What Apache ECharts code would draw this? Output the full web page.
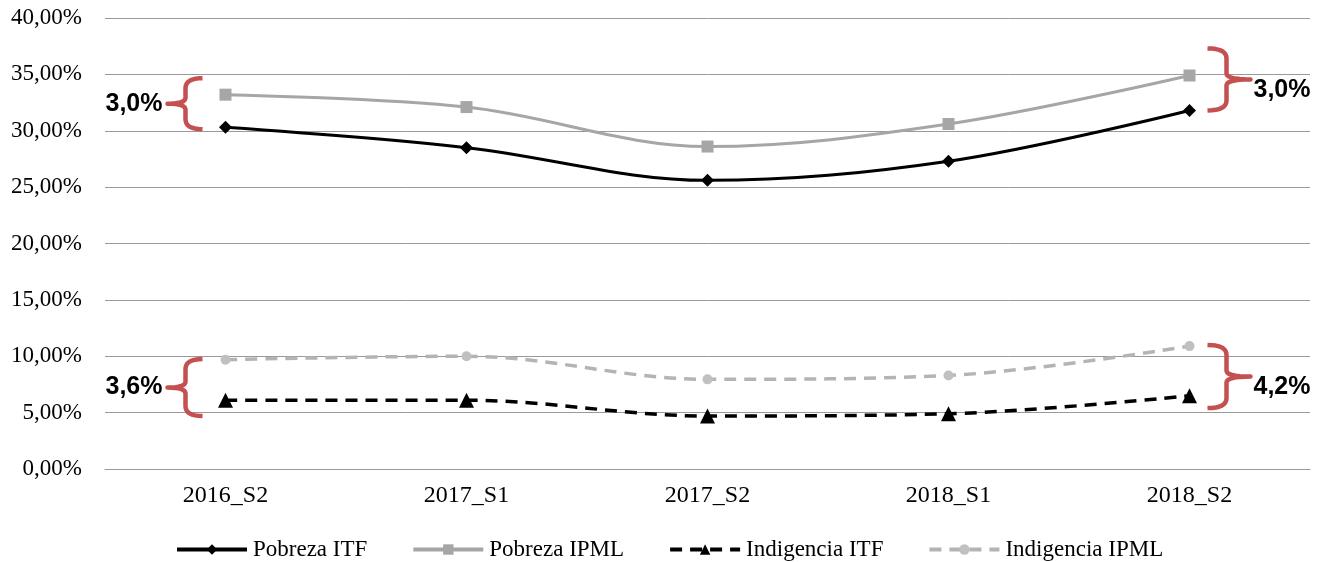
<!DOCTYPE html>
<html><head><meta charset="utf-8">
<script src="https://cdn.jsdelivr.net/npm/echarts@6/dist/echarts.min.js"></script>
<style>html,body{margin:0;padding:0;background:#fff}#c{width:1324px;height:562px}</style>
</head><body><div id="c"></div>
<script>
const categories = ['2016_S2','2017_S1','2017_S2','2018_S1','2018_S2'];
const pobrezaITF = [30.3, 28.5, 25.6, 27.3, 31.8];
const pobrezaIPML = [33.2, 32.1, 28.6, 30.6, 34.9];
const indigenciaITF = [6.1, 6.1, 4.7, 4.9, 6.5];
const indigenciaIPML = [9.7, 10.0, 7.95, 8.3, 10.9];
const seriesNames = ['Pobreza ITF','Pobreza IPML','Indigencia ITF','Indigencia IPML'];
// brace annotations: category index, value range, label
const braces = [
  {cat:0, top:34.66, bot:30.14, text:'3,0%', side:'left'},
  {cat:0, top:9.75, bot:4.70, text:'3,6%', side:'left'},
  {cat:4, top:37.3, bot:31.8, text:'3,0%', side:'right'},
  {cat:4, top:11.0, bot:5.4, text:'4,2%', side:'right'}
];

const chart = echarts.init(document.getElementById('c'));
const serif = '"Liberation Serif","Times New Roman",serif';
const grey = '#A6A6A6', lgrey = '#B4B4B4';
chart.setOption({
  animation:false,
  backgroundColor:'#fff',
  grid:{left:105,right:14,top:18,bottom:93,containLabel:false},
  xAxis:{type:'category',data:categories,boundaryGap:true,
    axisLine:{show:true,lineStyle:{color:'#9a9a9a',width:1}},
    axisTick:{show:false},
    axisLabel:{color:'#000',fontFamily:serif,fontSize:24,margin:15}},
  yAxis:{type:'value',min:0,max:40,interval:5,
    axisLine:{show:false},axisTick:{show:false},
    splitLine:{lineStyle:{color:'#9a9a9a',width:1}},
    axisLabel:{color:'#000',fontFamily:serif,fontSize:23,margin:23,
      formatter:v=>v.toFixed(2).replace('.',',')+'%'}},
  legend:{left:170,top:533,itemWidth:70,itemHeight:13,itemGap:44,
    lineStyle:{width:4},
    textStyle:{color:'#000',fontFamily:serif,fontSize:23,padding:[0,0,0,1]},
    data:seriesNames},
  series:[
    {name:seriesNames[0],type:'line',data:pobrezaITF,smooth:0.35,symbol:'diamond',symbolSize:13,
      lineStyle:{color:'#000',width:3},itemStyle:{color:'#000'}},
    {name:seriesNames[1],type:'line',data:pobrezaIPML,smooth:0.35,symbol:'rect',symbolSize:12,
      lineStyle:{color:grey,width:3},itemStyle:{color:grey}},
    {name:seriesNames[2],type:'line',data:indigenciaITF,smooth:0.35,symbol:'triangle',symbolSize:15,
      lineStyle:{color:'#000',width:3.5,type:[12,8]},itemStyle:{color:'#000'}},
    {name:seriesNames[3],type:'line',data:indigenciaIPML,smooth:0.35,symbol:'circle',symbolSize:10,
      lineStyle:{color:lgrey,width:3.5,type:[12,8]},itemStyle:{color:'#C0C0C0'}}
  ]
});

function quad(p0,p1,p2,n,out){
  for(let i=1;i<=n;i++){const t=i/n,u=1-t;
    out.push([u*u*p0[0]+2*u*t*p1[0]+t*t*p2[0], u*u*p0[1]+2*u*t*p1[1]+t*t*p2[1]]);}
}
function buildGraphics(){
  const els = [];
  braces.forEach(b=>{
    const cx = chart.convertToPixel({xAxisIndex:0},b.cat);
    const yt = chart.convertToPixel({yAxisIndex:0},b.top);
    const yb = chart.convertToPixel({yAxisIndex:0},b.bot);
    const mid = (yt+yb)/2;
    const L = b.side==='left';
    const s = L ? -1 : 1;
    const arm = cx + s*(L?23:18);
    const xv = cx + s*(L?40:37);
    const xt = cx + s*(L?58:61);
    const r = 10, r2 = 6;
    const pts = [[arm,yt]];
    quad([arm,yt],[xv,yt],[xv,yt+r],8,pts);
    pts.push([xv,mid-r2]);
    quad([xv,mid-r2],[xv,mid],[xt,mid],8,pts);
    quad([xt,mid],[xv,mid],[xv,mid+r2],8,pts);
    pts.push([xv,yb-r]);
    quad([xv,yb-r],[xv,yb],[arm,yb],8,pts);
    els.push({type:'polyline',shape:{points:pts},style:{fill:null,stroke:'#C4504F',lineWidth:4.5,lineJoin:'round'}});
    const ty = mid + (L?0:11);
    els.push({type:'text',x: L? xt-5 : xt+3, y:ty,
      style:{text:b.text,fill:'#000',font:'bold 25px "Liberation Sans",Arial,sans-serif',
        align:L?'right':'left',verticalAlign:'middle'}});
  });
  chart.setOption({graphic:els});
}
buildGraphics();
</script></body></html>
